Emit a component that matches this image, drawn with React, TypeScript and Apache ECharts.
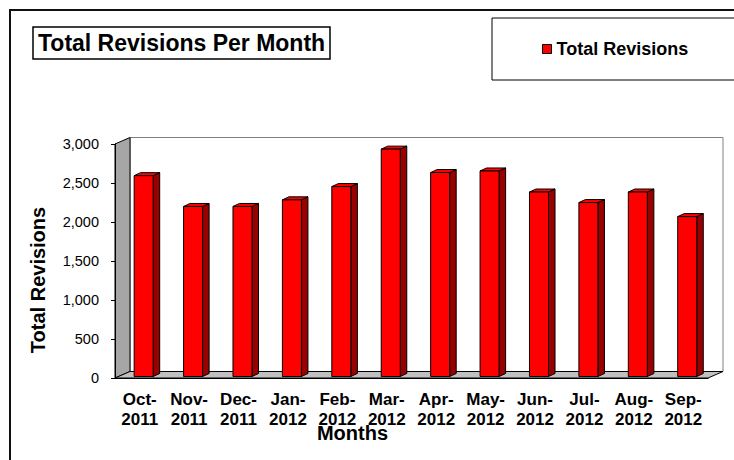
import React, { useEffect, useRef } from "react";
import * as echarts from "echarts";

const categories = [
  "Oct-2011", "Nov-2011", "Dec-2011", "Jan-2012", "Feb-2012", "Mar-2012",
  "Apr-2012", "May-2012", "Jun-2012", "Jul-2012", "Aug-2012", "Sep-2012",
];
const revisions = [2575, 2180, 2180, 2265, 2435, 2915, 2615, 2635, 2365, 2230, 2365, 2050];
const seriesName = "Total Revisions";
const chartTitle = "Total Revisions Per Month";
const yTitle = "Total Revisions";
const xTitle = "Months";

const FONT = "'Liberation Sans', Arial, sans-serif";
const DEPTH_X = 15;
const DEPTH_Y = -6.5;

export default function App() {
  const ref = useRef<HTMLDivElement>(null);
  useEffect(() => {
    if (!ref.current) return;
    const chart = echarts.init(ref.current, null, { renderer: "svg" });
    const option: any = {
      animation: false,
      backgroundColor: "#ffffff",
      textStyle: { fontFamily: FONT },
      title: {
        text: chartTitle,
        left: 33,
        top: 27,
        padding: [4, 5, 4, 5],
        borderColor: "#000",
        borderWidth: 1.5,
        textStyle: { fontFamily: FONT, fontSize: 23, fontWeight: "bold", color: "#000", lineHeight: 24 },
      },
      legend: {
        data: [seriesName],
        left: 492,
        top: 18,
        padding: [22, 80, 22, 50],
        borderColor: "#000",
        borderWidth: 1,
        icon: "rect",
        itemWidth: 9,
        itemHeight: 9,
        itemGap: 5,
        itemStyle: { color: "#ff0000", borderColor: "#000", borderWidth: 1 },
        textStyle: { fontFamily: FONT, fontSize: 18, fontWeight: "bold", color: "#000", lineHeight: 18 },
      },
      grid: { left: 115, right: 26, top: 144, bottom: 82 },
      xAxis: {
        type: "category",
        data: categories,
        z: 5,
        axisLine: { lineStyle: { color: "#000", width: 1 } },
        axisTick: { inside: true, length: 6, alignWithLabel: true, lineStyle: { color: "#000" } },
        axisLabel: {
          interval: 0,
          margin: 11,
          color: "#000",
          fontFamily: FONT,
          fontSize: 17,
          fontWeight: "bold",
          lineHeight: 20,
          formatter: (v: string) => v.replace("-", "-\n"),
        },
      },
      yAxis: {
        type: "value",
        min: 0,
        max: 3000,
        interval: 500,
        z: 5,
        splitLine: { show: false },
        axisLine: { show: true, lineStyle: { color: "#000", width: 1 } },
        axisTick: { show: true, length: 4, lineStyle: { color: "#000" } },
        axisLabel: {
          margin: 16,
          color: "#000",
          fontFamily: FONT,
          fontSize: 14.5,
          formatter: (v: number) => v.toLocaleString("en-US"),
        },
      },
      graphic: [
        {
          type: "rect",
          z: 100,
          shape: { x: 10, y: 10, width: 740, height: 470 },
          style: { fill: "none", stroke: "#111", lineWidth: 2 },
        },
        {
          type: "text",
          x: 38,
          y: 280,
          rotation: Math.PI / 2,
          style: {
            text: yTitle,
            align: "center",
            verticalAlign: "middle",
            fontFamily: FONT,
            fontSize: 20,
            fontWeight: "bold",
            fill: "#000",
          },
        },
        {
          type: "text",
          x: 352.5,
          y: 433,
          style: {
            text: xTitle,
            align: "center",
            verticalAlign: "middle",
            fontFamily: FONT,
            fontSize: 20,
            fontWeight: "bold",
            fill: "#000",
          },
        },
      ],
      series: [
        {
          type: "custom",
          name: "walls",
          z: 1,
          silent: true,
          data: [[0, 0]],
          renderItem: (params: any) => {
            const cs = params.coordSys;
            const x0 = cs.x, y0 = cs.y, x1 = cs.x + cs.width, y1 = cs.y + cs.height;
            return {
              type: "group",
              children: [
                {
                  type: "rect",
                  shape: { x: x0 + DEPTH_X, y: y0 + DEPTH_Y, width: cs.width, height: cs.height },
                  style: { fill: "#ffffff", stroke: "#808080", lineWidth: 1 },
                },
                {
                  type: "polygon",
                  shape: {
                    points: [
                      [x0, y0], [x0 + DEPTH_X, y0 + DEPTH_Y],
                      [x0 + DEPTH_X, y1 + DEPTH_Y], [x0, y1],
                    ],
                  },
                  style: { fill: "#a6a6a6", stroke: "#000", lineWidth: 1 },
                },
                {
                  type: "polygon",
                  shape: {
                    points: [
                      [x0, y1], [x1, y1],
                      [x1 + DEPTH_X, y1 + DEPTH_Y], [x0 + DEPTH_X, y1 + DEPTH_Y],
                    ],
                  },
                  style: { fill: "#c0c0c0", stroke: "#000", lineWidth: 1 },
                },
              ],
            };
          },
        },
        {
          type: "custom",
          name: seriesName,
          z: 3,
          itemStyle: { color: "#ff0000" },
          data: revisions.map((v, i) => [i, v]),
          encode: { x: 0, y: 1 },
          renderItem: (params: any, api: any) => {
            const idx = api.value(0);
            const val = api.value(1);
            const base = api.coord([idx, 0]);
            const top = api.coord([idx, val]);
            const band = api.size([1, 0])[0];
            const w = band * 0.385;
            const dx = band * 0.132;
            const dy = -3;
            const cx = base[0] + band * 0.08;
            const by = base[1] - 1.5;
            const ty = top[1] - 1.5;
            const l = cx - w / 2;
            const r = cx + w / 2;
            return {
              type: "group",
              children: [
                {
                  type: "polygon",
                  shape: { points: [[r, ty], [r + dx, ty + dy], [r + dx, by + dy], [r, by]] },
                  style: { fill: "#990000", stroke: "#000", lineWidth: 1 },
                },
                {
                  type: "polygon",
                  shape: { points: [[l, ty], [l + dx, ty + dy], [r + dx, ty + dy], [r, ty]] },
                  style: { fill: "#ff0000", stroke: "#000", lineWidth: 1 },
                },
                {
                  type: "rect",
                  shape: { x: l, y: ty, width: w, height: by - ty },
                  style: { fill: "#ff0000", stroke: "#000", lineWidth: 1 },
                },
              ],
            };
          },
        },
      ],
    };
    chart.setOption(option);
    return () => chart.dispose();
  }, []);
  return (
    <div
      ref={ref}
      style={{ position: "absolute", left: 0, top: 0, width: 734, height: 460, background: "#fff" }}
    />
  );
}
